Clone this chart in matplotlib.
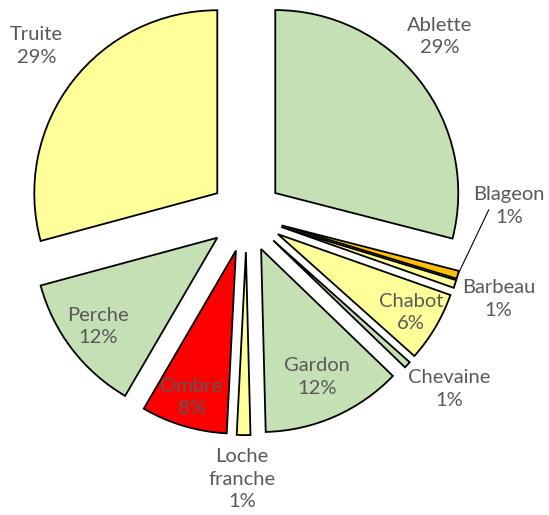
import matplotlib

matplotlib.use("agg")
import matplotlib.pyplot as plt
import numpy as np

# fish species share of the catch (percent)
species = ["Ablette", "Blageon", "Barbeau", "Chabot", "Chevaine",
           "Gardon", "Loche\nfranche", "Ombre", "Perche", "Truite"]
shares = [29.0, 0.7, 0.7, 6.2, 0.6, 12.4, 1.2, 7.6, 12.4, 29.2]

GREEN = "#C5E0B4"
YELLOW = "#FFFF99"
colors = [GREEN, "#FFC000", YELLOW, YELLOW, GREEN,
          GREEN, YELLOW, "#FF0000", GREEN, YELLOW]

# label block centres, in pie-radius units
label_xy = [(1.055, 0.978), (1.435, 0.052), (1.377, -0.456), (0.899, -0.531),
            (1.108, -0.948), (0.388, -0.883), (-0.025, -1.440), (-0.300, -0.995),
            (-0.812, -0.607), (-1.148, 0.926)]

W, H = 549, 515          # figure size, px
R_PX = 183               # pie radius, px
CX, CY = 246.35, 215.5   # pie centre, px from top-left
EXPLODE = 0.2
TEXT = "#595959"

plt.rcParams["font.family"] = ["Lato", "DejaVu Sans"]

fig = plt.figure(figsize=(W / 100, H / 100), dpi=100)
ax = fig.add_axes([0, 0, 1, 1])
ax.set_axis_off()

wedges, _ = ax.pie(
    shares,
    colors=colors,
    startangle=90,
    counterclock=False,
    explode=[EXPLODE] * len(shares),
    radius=1.0,
    wedgeprops=dict(edgecolor="black", linewidth=1.3, joinstyle="miter"),
)

ax.set_xlim(-CX / R_PX, (W - CX) / R_PX)
ax.set_ylim((CY - H) / R_PX, CY / R_PX)
ax.set_aspect("equal")

total = sum(shares)
for name, val, (lx, ly) in zip(species, shares, label_xy):
    txt = f"{name}\n{val / total * 100:.0f}%"
    ax.text(lx, ly, txt, ha="center", va="center", fontsize=14.5,
            color=TEXT, linespacing=1.4)

# leader line for the thin Blageon slice
w = wedges[1]
mid = np.deg2rad((w.theta1 + w.theta2) / 2)
cx, cy = w.center
tip = (cx + w.r * np.cos(mid), cy + w.r * np.sin(mid))
lx, ly = label_xy[1]
ax.annotate("", xy=tip, xytext=(lx - 0.11, ly - 0.02),
            arrowprops=dict(arrowstyle="-", color="black", lw=0.8,
                            shrinkA=0, shrinkB=0))

fig.savefig("out.png", dpi=100, facecolor="white")
plt.close(fig)
